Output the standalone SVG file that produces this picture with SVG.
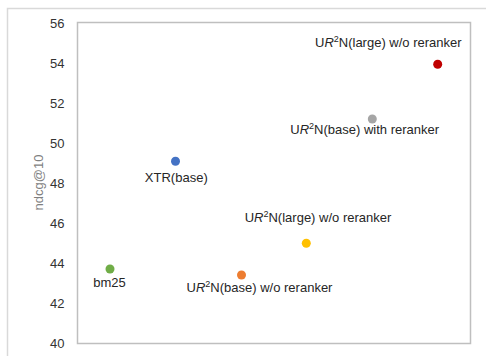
<svg xmlns="http://www.w3.org/2000/svg" width="486" height="356" viewBox="0 0 486 356">
<style>
.tick{font-family:"Liberation Sans",Arial,sans-serif;font-size:13px;fill:#333333;text-anchor:end}
.lbl{font-family:"Liberation Sans",Arial,sans-serif;font-size:13px;fill:#262626;text-anchor:middle}
.sup{font-size:9px}
.it{font-style:italic}
.title{font-family:"Liberation Sans",Arial,sans-serif;font-size:13px;fill:#7f7f7f;text-anchor:middle}
</style>
<rect x="0" y="0" width="486" height="356" fill="#ffffff"/>
<rect x="7.5" y="8.5" width="520" height="400" fill="none" stroke="#D9D9D9" stroke-width="1.5"/>
<g id="axes">
<rect x="77.5" y="22.5" width="393" height="321" fill="#ffffff" stroke="#BFBFBF" stroke-width="1.5"/>
<text class="tick" x="64.5" y="28">56</text>
<text class="tick" x="64.5" y="68">54</text>
<text class="tick" x="64.5" y="108">52</text>
<text class="tick" x="64.5" y="148">50</text>
<text class="tick" x="64.5" y="188">48</text>
<text class="tick" x="64.5" y="228">46</text>
<text class="tick" x="64.5" y="268">44</text>
<text class="tick" x="64.5" y="308">42</text>
<text class="tick" x="64.5" y="348">40</text>
<text class="title" transform="translate(42.5,182.5) rotate(-90)">ndcg@10</text>
</g>
<g id="bm25">
<circle cx="110" cy="269" r="4.5" fill="#70AD47"/>
<text class="lbl" x="109.5" y="286.5">bm25</text>
</g>
<g id="xtr-base">
<circle cx="175.5" cy="161.3" r="4.5" fill="#4472C4"/>
<text class="lbl" x="176.3" y="181.5">XTR(base)</text>
</g>
<g id="ur2n-base-wo">
<circle cx="241.5" cy="275" r="4.5" fill="#ED7D31"/>
<text class="lbl" x="259.5" y="292">U<tspan class="it">R</tspan><tspan class="sup" dy="-5">2</tspan><tspan dy="5">N(base) w/o reranker</tspan></text>
</g>
<g id="ur2n-large-wo-mid">
<circle cx="306.3" cy="243.3" r="4.5" fill="#FFC000"/>
<text class="lbl" x="318" y="222.3">U<tspan class="it">R</tspan><tspan class="sup" dy="-5">2</tspan><tspan dy="5">N(large) w/o reranker</tspan></text>
</g>
<g id="ur2n-base-with">
<circle cx="372.3" cy="119" r="4.5" fill="#A5A5A5"/>
<text class="lbl" x="364.7" y="134">U<tspan class="it">R</tspan><tspan class="sup" dy="-5">2</tspan><tspan dy="5">N(base) with reranker</tspan></text>
</g>
<g id="ur2n-large-wo-top">
<circle cx="437.7" cy="64.3" r="4.5" fill="#C00000"/>
<text class="lbl" x="388.3" y="46.5">U<tspan class="it">R</tspan><tspan class="sup" dy="-5">2</tspan><tspan dy="5">N(large) w/o reranker</tspan></text>
</g>
</svg>
